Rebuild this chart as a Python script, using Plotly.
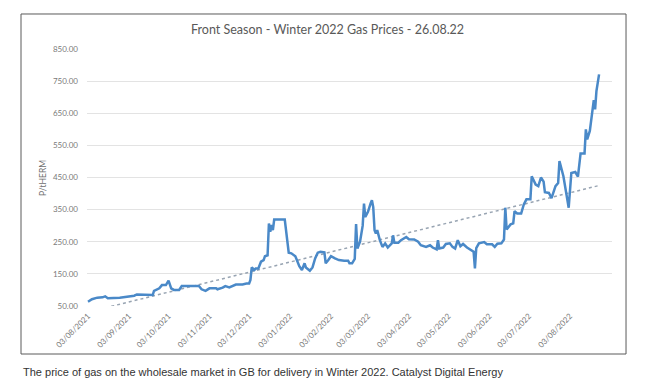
import plotly.graph_objects as go

# ---- data ----
dates = [
    "2021-08-03", "2021-08-06", "2021-08-10", "2021-08-14", "2021-08-16", "2021-08-18",
    "2021-08-27", "2021-09-07", "2021-09-09", "2021-09-13", "2021-09-19", "2021-09-21",
    "2021-09-22", "2021-09-26", "2021-09-28", "2021-10-01", "2021-10-03", "2021-10-05",
    "2021-10-07", "2021-10-11", "2021-10-13", "2021-10-26", "2021-10-28", "2021-10-31",
    "2021-11-03", "2021-11-08", "2021-11-09", "2021-11-13", "2021-11-15", "2021-11-18",
    "2021-11-23", "2021-11-28", "2021-12-01", "2021-12-03", "2021-12-04", "2021-12-05",
    "2021-12-07", "2021-12-08", "2021-12-10", "2021-12-12", "2021-12-14", "2021-12-15",
    "2021-12-17", "2021-12-18", "2021-12-19", "2021-12-20", "2021-12-21", "2021-12-22",
    "2021-12-30", "2021-12-31", "2022-01-02", "2022-01-04", "2022-01-07", "2022-01-08",
    "2022-01-10", "2022-01-12", "2022-01-14", "2022-01-15", "2022-01-18", "2022-01-20",
    "2022-01-22", "2022-01-24", "2022-01-26", "2022-01-29", "2022-01-30", "2022-02-01",
    "2022-02-03", "2022-02-06", "2022-02-09", "2022-02-13", "2022-02-16", "2022-02-17",
    "2022-02-19", "2022-02-21", "2022-02-22", "2022-02-23", "2022-02-25", "2022-02-27",
    "2022-02-28", "2022-03-01", "2022-03-03", "2022-03-05", "2022-03-06", "2022-03-07",
    "2022-03-08", "2022-03-09", "2022-03-10", "2022-03-12", "2022-03-14", "2022-03-16",
    "2022-03-18", "2022-03-21", "2022-03-22", "2022-03-23", "2022-03-26", "2022-03-28",
    "2022-04-01", "2022-04-03", "2022-04-07", "2022-04-10", "2022-04-12", "2022-04-16",
    "2022-04-19", "2022-04-21", "2022-04-24", "2022-04-25", "2022-04-26", "2022-04-29",
    "2022-05-01", "2022-05-04", "2022-05-06", "2022-05-08", "2022-05-10", "2022-05-12",
    "2022-05-14", "2022-05-17", "2022-05-18", "2022-05-20", "2022-05-22", "2022-05-23",
    "2022-05-24", "2022-05-26", "2022-05-28", "2022-05-30", "2022-06-01", "2022-06-05",
    "2022-06-07", "2022-06-09", "2022-06-12", "2022-06-14", "2022-06-15", "2022-06-16",
    "2022-06-19", "2022-06-21", "2022-06-22", "2022-06-24", "2022-06-27", "2022-06-29",
    "2022-07-01", "2022-07-04", "2022-07-05", "2022-07-08", "2022-07-10", "2022-07-12",
    "2022-07-14", "2022-07-15", "2022-07-18", "2022-07-20", "2022-07-23", "2022-07-25",
    "2022-07-26", "2022-07-29", "2022-08-02", "2022-08-04", "2022-08-07", "2022-08-09",
    "2022-08-11", "2022-08-14", "2022-08-15", "2022-08-16", "2022-08-18", "2022-08-21",
    "2022-08-22", "2022-08-23", "2022-08-25",
]
prices = [
    63, 71, 76, 77, 80, 74,
    76, 82, 86, 86, 84, 84,
    97, 105, 115, 115, 129, 105,
    100, 100, 112, 112, 102, 97,
    105, 105, 102, 107, 112, 108,
    117, 117, 120, 120, 131, 170,
    162, 167, 167, 188, 193, 205,
    208, 307, 281, 302, 286, 319,
    319, 286, 216, 214, 205, 195,
    174, 162, 183, 170, 160, 170,
    198, 216, 219, 217, 183, 193,
    205, 198, 193, 191, 191, 183,
    183, 197, 305, 229, 250, 300,
    369, 327, 343, 369, 379, 358,
    286, 276, 286, 255, 234, 245,
    232, 245, 270, 247, 247, 255,
    265, 258, 257, 250, 239, 234,
    239, 232, 226, 255, 229, 232,
    243, 245, 234, 229, 255, 236,
    243, 232, 229, 224, 219, 167,
    230, 245, 247, 249, 242, 242,
    234, 244, 245, 257, 356, 288,
    304, 307, 345, 338, 338, 366,
    382, 382, 454, 428, 423, 450,
    437, 404, 402, 386, 423, 433,
    501, 454, 356, 464, 467, 453,
    525, 525, 600, 569, 595, 691,
    662, 719, 771,
]

trend_dates = ["2021-08-03", "2022-08-25"]
trend_values = [31, 425]

tick_dates = ["2021-08-03", "2021-09-03", "2021-10-03", "2021-11-03", "2021-12-03",
              "2022-01-03", "2022-02-03", "2022-03-03", "2022-04-03", "2022-05-03",
              "2022-06-03", "2022-07-03", "2022-08-03"]
tick_labels = ["03/08/2021", "03/09/2021", "03/10/2021", "03/11/2021", "03/12/2021",
               "03/01/2022", "03/02/2022", "03/03/2022", "03/04/2022", "03/05/2022",
               "03/06/2022", "03/07/2022", "03/08/2022"]
y_ticks = [50, 150, 250, 350, 450, 550, 650, 750, 850]
y_tick_labels = ["50.00", "150.00", "250.00", "350.00", "450.00", "550.00",
                 "650.00", "750.00", "850.00"]

title_text = "Front Season - Winter 2022 Gas Prices - 26.08.22"
y_title = "P/tHERM"
caption = ("The price of gas on the wholesale market in GB for delivery in Winter 2022. "
           "Catalyst Digital Energy")

# ---- figure ----
fig = go.Figure()
fig.add_trace(go.Scatter(
    x=trend_dates, y=trend_values, mode="lines",
    line=dict(color="#98A4B2", width=1.5, dash="dot"),
    hoverinfo="skip", showlegend=False,
))
fig.add_trace(go.Scatter(
    x=dates, y=prices, mode="lines",
    line=dict(color="#4A89C8", width=2.5),
    showlegend=False,
))

tick_font = dict(family="Lato, 'Open Sans', sans-serif", size=8, color="#7a7a7a")
ytick_font = dict(family="Lato, 'Open Sans', sans-serif", size=8, color="#7a7a7a")

fig.update_layout(
    width=651, height=390,
    margin=dict(l=87, r=39, t=49, b=84),
    paper_bgcolor="white", plot_bgcolor="white",
    showlegend=False,
    xaxis=dict(
        type="date",
        range=["2021-08-02 06:00", "2022-09-03 19:00"],
        tickmode="array", tickvals=tick_dates, ticktext=tick_labels,
        tickangle=-45, tickfont=tick_font,
        showgrid=False, zeroline=False, showline=False,
        ticks="", ticklabelstandoff=3, automargin=False,
    ),
    yaxis=dict(
        range=[50, 850],
        tickmode="array", tickvals=y_ticks, ticktext=y_tick_labels,
        tickfont=ytick_font,
        showgrid=True, gridcolor="#E3E3E3", gridwidth=1,
        zeroline=False, showline=False, ticks="", ticklabelstandoff=8,
        automargin=False,
    ),
    shapes=[dict(
        type="rect", xref="paper", yref="paper",
        x0=-0.1257, x1=1.0267, y0=-0.1868, y1=1.1362,
        line=dict(color="#5a5a5a", width=1), fillcolor="rgba(0,0,0,0)",
        layer="below",
    )],
    annotations=[
        dict(text=title_text, xref="paper", yref="paper",
             x=(327 - 87) / 525, y=(306 - 29) / 257, xanchor="center", yanchor="middle",
             showarrow=False,
             font=dict(family="Lato, 'Open Sans', sans-serif", size=12.5, color="#595959")),
        dict(text=y_title, xref="paper", yref="paper",
             x=(43 - 87) / 525, y=(306 - 178) / 257, xanchor="center", yanchor="middle",
             textangle=-90, showarrow=False,
             font=dict(family="Lato, 'Open Sans', sans-serif", size=8.5, color="#6f6f6f")),
        dict(text=caption, xref="paper", yref="paper",
             x=(21 - 87) / 525, y=(306 - 372) / 257, xanchor="left", yanchor="middle",
             showarrow=False,
             font=dict(family="'Liberation Sans', Arial, sans-serif", size=11, color="#333333")),
    ],
)

fig.write_html("out.html", config={"displayModeBar": False},
               post_script="document.body.style.margin='0';")
